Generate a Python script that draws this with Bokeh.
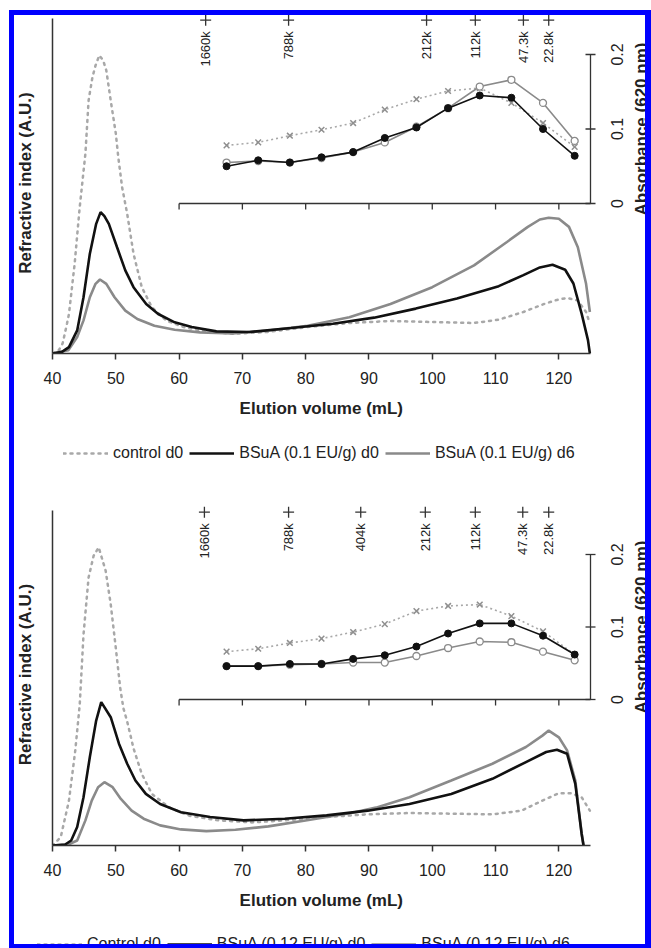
import math
from bokeh.plotting import figure
from bokeh.models import (Range1d, FixedTicker, Legend, LegendItem, InlineStyleSheet)
from bokeh.layouts import column
from bokeh.core.properties import value
from bokeh.embed import file_html
from bokeh.resources import INLINE

FONT = "Liberation Sans"
NAN = float("nan")
NBSP = "\u00a0"

# ---------------- shared axis definitions ----------------
x_ticks = [40, 50, 60, 70, 80, 90, 100, 110, 120]
x_start, x_end = 40, 125
inset_x_ticks = [60, 70, 80, 90, 100, 110, 120]
abs_ticks = [0, 0.1, 0.2]
abs_tick_text = ["0", "0.1", "0.2"]
abs_title = "Absorbance (620 nm)"
x_title = "Elution volume (mL)"
inset_vol = [67.5, 72.5, 77.5, 82.5, 87.5, 92.5, 97.5, 102.5, 107.5, 112.5, 117.5, 122.5]

# ---------------- panel A (0.1 EU/g) : refractive index traces ----------------
a_ctrl_vol = [40.0, 41.0, 41.6, 42.3, 42.6, 43.5, 44.3, 44.6, 45.2, 45.7, 46.3, 46.8, 47.4, 48.0, 48.5,
              49.2, 50.0, 50.4, 51.0, 51.8, 52.8, 54.1, 55.7, 58.0, 60.7, 64.6, 68.5, 73.8, 80.3, 86.9,
              93.4, 100.0, 106.6, 110.5, 114.4, 117.7, 119.7, 121.3, 123.0, 124.3, 124.8]
a_ctrl_ri = [0, 1.0, 3.0, 9.0, 11.8, 26.8, 43.7, 49.0, 59.7, 75.5, 82.4, 86.0, 89.0, 87.5, 84.5,
             75.5, 65.7, 58.5, 49.6, 41.7, 29.8, 19.8, 13.8, 9.8, 7.9, 6.4, 5.9, 6.4, 7.9, 9.1,
             9.7, 9.4, 9.1, 10.1, 12.4, 14.8, 16.0, 16.6, 15.8, 12.4, 9.5]
a_d0_vol = [40.0, 41.5, 42.6, 43.9, 44.9, 45.9, 46.9, 47.6, 48.2, 48.9, 50.2, 51.5, 52.8, 54.8, 56.7,
            59.3, 62.0, 65.9, 71.1, 77.7, 84.3, 90.8, 97.4, 103.9, 110.5, 114.4, 117.0, 119.0, 121.0,
            122.3, 123.6, 124.6, 124.9]
a_d0_ri = [0, 0.5, 1.9, 6.9, 16.8, 29.8, 38.7, 42.2, 41.0, 38.7, 31.7, 24.8, 19.8, 14.8, 11.8,
           9.3, 7.9, 6.6, 6.4, 7.6, 8.9, 10.7, 13.4, 16.4, 20.1, 23.4, 25.7, 26.5, 25.0,
           20.9, 11.9, 4.0, 0]
a_d6_vol = [40.0, 42.5, 43.9, 44.9, 45.9, 46.8, 47.5, 48.5, 49.8, 51.5, 53.4, 56.1, 59.3, 63.3, 68.5,
            73.8, 80.3, 86.9, 93.4, 100.0, 106.6, 111.8, 115.1, 117.0, 118.4, 120.0, 121.6, 123.0,
            124.3, 124.9]
a_d6_ri = [0, 1.0, 4.9, 9.9, 16.8, 20.8, 22.1, 20.8, 16.8, 12.8, 10.3, 8.3, 7.1, 6.3, 6.0,
           6.8, 8.3, 10.8, 14.8, 19.8, 26.3, 33.3, 37.8, 40.0, 40.5, 40.2, 37.8, 31.7,
           20.8, 12.4]
# panel A inset : absorbance (620 nm)
a_abs_ctrl = [0.078, 0.082, 0.091, 0.099, 0.108, 0.126, 0.140, 0.151, 0.155, 0.135, 0.108, 0.076]
a_abs_d0 = [0.050, 0.058, 0.055, 0.062, 0.069, 0.088, 0.102, 0.128, 0.145, 0.142, 0.100, 0.064]
a_abs_d6 = [0.055, 0.057, 0.055, 0.061, 0.069, 0.082, 0.103, 0.128, 0.157, 0.166, 0.135, 0.084]
a_mass_vol = [64.2, 77.3, 99.1, 106.8, 114.4, 118.4]
a_mass_lab = ["1660k", "788k", "212k", "112k", "47.3k", "22.8k"]
a_legend = ["control d0", "BSuA (0.1 EU/g) d0", "BSuA (0.1 EU/g) d6"]

# ---------------- panel B (0.12 EU/g) ----------------
b_ctrl_vol = [40.0, 41.3, 42.6, 43.6, 44.3, 44.9, 45.7, 46.5, 47.3, 48.4, 49.2, 50.0, 50.7, 51.2,
              51.8, 52.8, 54.1, 55.7, 58.4, 61.6, 66.2, 71.5, 76.7, 83.3, 89.8, 96.4, 103.0, 109.5,
              114.1, 117.4, 120.0, 122.0, 123.6, 124.9]
b_ctrl_ri = [0, 2.5, 13.4, 28.4, 42.0, 63.0, 80.0, 86.5, 89.0, 82.0, 72.0, 59.0, 47.0, 41.0,
             37.0, 29.0, 21.4, 15.4, 11.4, 8.9, 7.5, 6.9, 7.5, 8.5, 9.3, 9.7, 9.5, 9.3,
             10.4, 13.4, 15.6, 15.6, 14.4, 10.4]
b_d0_vol = [40.0, 42.0, 42.95, 43.9, 44.9, 45.9, 46.9, 47.7, 49.2, 50.5, 51.8, 53.1, 54.75, 57.0,
            60.3, 64.9, 70.2, 76.7, 83.3, 89.8, 96.4, 103.0, 109.5, 114.8, 118.0, 119.7, 121.3,
            122.6, 123.6, 123.9]
b_d0_ri = [0, 0.3, 1.5, 5.5, 14.4, 26.4, 37.3, 42.8, 38.3, 30.4, 24.4, 19.4, 15.4, 12.4,
           9.95, 8.5, 7.5, 8.0, 9.0, 10.4, 12.4, 15.4, 19.9, 24.9, 27.9, 28.6, 27.4,
           18.4, 3.5, 0]
b_d6_vol = [40.0, 42.5, 43.9, 45.2, 46.2, 47.2, 48.2, 49.5, 50.8, 52.5, 54.4, 57.0, 60.3, 64.3,
            68.9, 74.1, 80.7, 87.2, 91.1, 96.4, 103.0, 109.5, 114.8, 117.4, 118.4, 120.0, 121.3,
            122.6, 123.6, 123.9]
b_d6_ri = [0, 0.3, 1.5, 7.5, 13.4, 17.4, 18.9, 17.4, 13.9, 10.4, 8.0, 6.0, 4.8, 4.3,
           4.7, 5.7, 7.7, 9.7, 11.3, 14.4, 19.4, 24.4, 29.4, 32.8, 34.3, 32.3, 28.4,
           19.4, 3.5, 0]
b_abs_ctrl = [0.066, 0.070, 0.078, 0.084, 0.093, 0.104, 0.122, 0.129, 0.131, 0.115, 0.094, 0.062]
b_abs_d0 = [0.046, 0.046, 0.049, 0.049, 0.056, 0.061, 0.073, 0.091, 0.105, 0.105, 0.088, 0.062]
b_abs_d6 = [0.046, 0.046, 0.048, 0.049, 0.051, 0.051, 0.060, 0.071, 0.080, 0.079, 0.066, 0.054]
b_mass_vol = [64.0, 77.3, 88.7, 98.9, 106.8, 114.3, 118.4]
b_mass_lab = ["1660k", "788k", "404k", "212k", "112k", "47.3k", "22.8k"]
b_legend = ["Control d0", "BSuA (0.12 EU/g) d0", "BSuA (0.12 EU/g) d6"]

BLACK = "#111111"
GRAY = "#8a8a8a"
LIGHT = "#a8a8a8"
AXIS = "#333333"
TXT = "#222222"
W = 651
LEFT = 52                       # frame left edge (px)
PX_PER_ML = 538 / 85.0          # 40..125 mL spans 538 px
VIEW_END = x_start + (W - LEFT) / PX_PER_ML   # frame runs to the canvas edge
TICK_HALF = 5 / PX_PER_ML
X_TITLE_PAD = 13                # keeps the axis title centred under 40..125 mL
CTRL_STYLE = dict(line_color=LIGHT, line_width=2.5, line_dash="2 5", line_cap="round")
D6_STYLE = dict(line_color=GRAY, line_width=2.6)
D0_STYLE = dict(line_color=BLACK, line_width=2.6)


def panel(height, b_top, b_bot, y_end, abs_rng, abs_tick_len,
          cv, cr, d0v, d0r, d6v, d6r, ac, a0, a6, mv, ml):
    p = figure(width=W, height=height, x_range=Range1d(x_start, VIEW_END),
               y_range=Range1d(0, y_end), output_backend="svg", toolbar_location=None,
               min_border_left=LEFT, min_border_right=0, min_border_top=b_top,
               min_border_bottom=b_bot, outline_line_color=None,
               background_fill_color="white", border_fill_color="white")
    p.grid.visible = False
    p.extra_y_ranges = {"abs": Range1d(*abs_rng)}

    xa = p.xaxis[0]
    xa.ticker = FixedTicker(ticks=x_ticks)
    xa.bounds = (x_start, x_end)
    xa.major_tick_out = 6
    xa.major_tick_in = 0
    xa.minor_tick_out = 0
    xa.axis_line_color = AXIS
    xa.axis_line_width = 1.5
    xa.major_tick_line_color = AXIS
    xa.major_tick_line_width = 1.5
    xa.major_label_text_font = FONT
    xa.major_label_text_font_size = "16px"
    xa.major_label_text_color = TXT
    xa.major_label_standoff = 12
    xa.axis_label = x_title + NBSP * X_TITLE_PAD
    xa.axis_label_text_font = FONT
    xa.axis_label_text_font_size = "17px"
    xa.axis_label_text_font_style = "bold"
    xa.axis_label_text_color = TXT
    xa.axis_label_standoff = 12

    ya = p.yaxis[0]
    ya.ticker = FixedTicker(ticks=[])
    ya.bounds = (0, 100)
    ya.major_tick_out = 0
    ya.minor_tick_out = 0
    ya.axis_line_color = AXIS
    ya.axis_line_width = 1.5
    ya.axis_label = "Refractive index (A.U.)"
    ya.axis_label_text_font = FONT
    ya.axis_label_text_font_size = "17px"
    ya.axis_label_text_font_style = "bold"
    ya.axis_label_text_color = TXT
    ya.axis_label_standoff = 18

    # ---- inset axes (absorbance scale) ----
    p.line([inset_x_ticks[0], x_end], [0, 0], y_range_name="abs", line_color=AXIS, line_width=1.3)
    p.segment(x0=inset_x_ticks, y0=[0] * len(inset_x_ticks), x1=inset_x_ticks,
              y1=[-abs_tick_len] * len(inset_x_ticks), y_range_name="abs",
              line_color=AXIS, line_width=1.3)
    p.line([x_end, x_end], [abs_ticks[0], abs_ticks[-1]], y_range_name="abs",
           line_color=AXIS, line_width=1.3)
    p.segment(x0=[x_end - TICK_HALF] * len(abs_ticks), y0=abs_ticks,
              x1=[x_end + TICK_HALF] * len(abs_ticks), y1=abs_ticks, y_range_name="abs",
              line_color=AXIS, line_width=1.3)
    p.text([x_end] * len(abs_ticks), abs_ticks, text=abs_tick_text, y_range_name="abs",
           angle=math.pi / 2, text_align="center", text_baseline="middle", x_offset=26,
           text_font=value(FONT), text_font_size="16px", text_color=TXT)
    p.text([x_end], [(abs_ticks[0] + abs_ticks[-1]) / 2], text=[abs_title], y_range_name="abs",
           angle=math.pi / 2, text_align="center", text_baseline="middle", x_offset=51,
           text_font=value(FONT), text_font_size="17px", text_font_style="bold",
           text_color=TXT)

    # main RI traces
    p.line(cv, cr, **CTRL_STYLE)
    p.line(d6v, d6r, **D6_STYLE)
    p.line(d0v, d0r, **D0_STYLE)

    # inset absorbance series
    p.line(inset_vol, ac, y_range_name="abs", line_color=LIGHT, line_width=1.6, line_dash="2 3")
    p.scatter(inset_vol, ac, y_range_name="abs", marker="x", size=8, line_color="#8f8f8f",
              line_width=1.5)
    p.line(inset_vol, a6, y_range_name="abs", line_color=GRAY, line_width=1.6)
    p.scatter(inset_vol, a6, y_range_name="abs", marker="circle", size=7, fill_color="white",
              line_color=GRAY, line_width=1.3)
    p.line(inset_vol, a0, y_range_name="abs", line_color=BLACK, line_width=1.6)
    p.scatter(inset_vol, a0, y_range_name="abs", marker="circle", size=7, fill_color=BLACK,
              line_color=BLACK)

    # molecular mass markers
    my = [99.5] * len(mv)
    p.scatter(mv, my, marker="cross", size=11, line_color="#333333", line_width=1.3)
    p.text(mv, my, text=ml, angle=math.pi / 2, text_align="right", text_baseline="middle",
           y_offset=11, text_font=value(FONT), text_font_size="13px", text_color=TXT)
    return p


def legend_strip(height, labels, loc):
    f = figure(width=W, height=height, x_range=Range1d(0, 1), y_range=Range1d(0, 1),
               output_backend="svg", toolbar_location=None, min_border=0,
               x_axis_location=None, y_axis_location=None, outline_line_color=None,
               background_fill_color="white", border_fill_color="white", frame_align=False)
    f.grid.visible = False
    # legend proxies only (no visible data)
    r_c = f.line([0, 1], [NAN, NAN], **CTRL_STYLE)
    r_0 = f.line([0, 1], [NAN, NAN], **D0_STYLE)
    r_6 = f.line([0, 1], [NAN, NAN], **D6_STYLE)
    leg = Legend(items=[LegendItem(label=labels[0], renderers=[r_c]),
                        LegendItem(label=labels[1], renderers=[r_0]),
                        LegendItem(label=labels[2], renderers=[r_6])],
                 orientation="horizontal", location=loc, glyph_width=45,
                 glyph_height=18, label_standoff=5, spacing=6, padding=0, margin=0,
                 border_line_color=None, background_fill_alpha=0,
                 label_text_font=FONT, label_text_font_size="16px",
                 label_text_color=TXT)
    f.add_layout(leg)
    return f


H1, HL1, H2 = 436, 30, 452
HL2 = 948 - H1 - HL1 - H2
p1 = panel(H1, 12, H1 - 353, 100 + 6 / 3.35, (-150 / 745, 191 / 745), 6 / 745,
           a_ctrl_vol, a_ctrl_ri, a_d0_vol, a_d0_ri, a_d6_vol, a_d6_ri,
           a_abs_ctrl, a_abs_d0, a_abs_d6, a_mass_vol, a_mass_lab)
l1 = legend_strip(HL1, a_legend, (63, 4))
top2 = H1 + HL1
p2 = panel(H2, 503 - top2, top2 + H2 - 845, 100 + 7 / 3.35, (-146 / 725, 196 / 725), 6 / 725,
           b_ctrl_vol, b_ctrl_ri, b_d0_vol, b_d0_ri, b_d6_vol, b_d6_ri,
           b_abs_ctrl, b_abs_d0, b_abs_d6, b_mass_vol, b_mass_lab)
l2 = legend_strip(HL2, b_legend, (37, -5))

frame_css = InlineStyleSheet(css="""
:host { position: relative; }
:host::after {
  content: ""; position: absolute; left: 9px; top: 10px; right: 0px; bottom: 0px;
  border-style: solid; border-color: #0000ff; border-width: 5px 6px 4px 5px;
  pointer-events: none; z-index: 100;
}
""")
layout = column(p1, l1, p2, l2, spacing=0, stylesheets=[frame_css])
open("out.html", "w").write(file_html(layout, INLINE))
